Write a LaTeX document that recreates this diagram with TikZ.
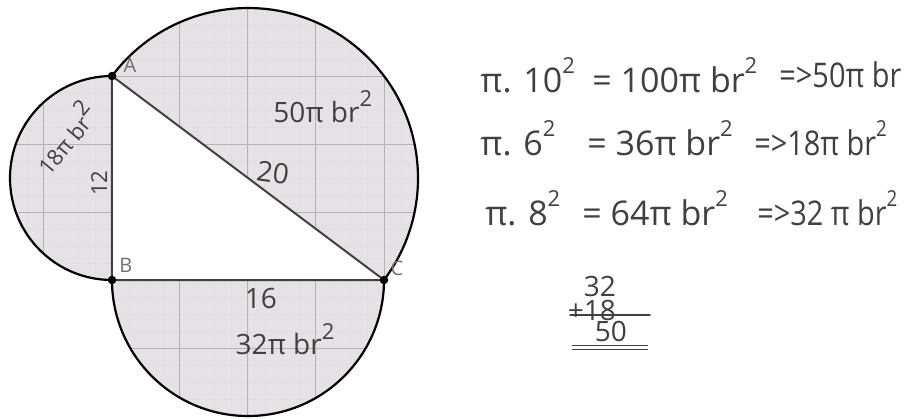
\documentclass[tikz,border=0pt]{standalone}
\usepackage{fontspec}
\setmainfont{Open Sans}
\usetikzlibrary{positioning}
\definecolor{ShadeGrey}{HTML}{E6E1E4}
\definecolor{GridGrey}{HTML}{B4B2B3}
\definecolor{InkGrey}{HTML}{404040}
\definecolor{LabelGrey}{HTML}{707070}
\newcommand{\pwtwo}{\raisebox{0.55em}{\fontsize{11}{12}\selectfont 2}}

\begin{document}
\begin{tikzpicture}[x=8.5pt,y=8.5pt,line cap=round,line join=round,
    hand/.style={InkGrey,font=\fontsize{14}{16}\selectfont,inner sep=0pt},
    smallhand/.style={InkGrey,font=\fontsize{11}{13}\selectfont,inner sep=0pt},
    bighand/.style={InkGrey,font=\fontsize{17}{20}\selectfont,inner sep=0pt,anchor=west},
    tailhand/.style={bighand,xscale=0.85},
    vertex/.style={LabelGrey,font=\fontsize{10}{12}\selectfont,inner sep=1pt}]
  \useasboundingbox (-6.588,-8.118) rectangle (46.588,16.471);
  \coordinate (A) at (0,12);
  \coordinate (B) at (0,0);
  \coordinate (C) at (16,0);
  % shaded half discs on squared paper
  \begin{scope}
    \clip (A) arc[start angle=90,end angle=270,radius=6] -- cycle
          (B) arc[start angle=180,end angle=360,radius=8] -- cycle
          (C) arc[start angle=-36.87,end angle=143.13,radius=10] -- cycle;
    \fill[ShadeGrey] (-7,-9) rectangle (19,17);
    \draw[GridGrey!40,line width=0.3pt] (-8,-12) grid[step=1] (20,20);
    \draw[GridGrey,line width=0.5pt] (-8,-12) grid[step=4] (20,20);
  \end{scope}
  \draw[line width=1.1pt] (A) arc[start angle=90,end angle=270,radius=6];
  \draw[line width=1.1pt] (B) arc[start angle=180,end angle=360,radius=8];
  \draw[line width=1.1pt] (C) arc[start angle=-36.87,end angle=143.13,radius=10];
  \draw[InkGrey,line width=1pt] (A)--(B)--(C)--cycle;
  \fill (A) circle (0.25);
  \fill (B) circle (0.25);
  \fill (C) circle (0.25);
  \node[vertex] (labA) at (1.06,12.65) {A};
  \node[vertex] (labB) at (0.82,0.88) {B};
  \node[vertex] (labC) at (16.76,0.7) {C};
  % handwritten labels in the figure
  \node[hand] (areaAC) at (12.4,10.2) {50π br\pwtwo};
  \node[hand,rotate=-8] (sideAC) at (9.47,6.3) {20};
  \node[smallhand,rotate=50] (areaAB) at (-2.8,8.4) {18π br\pwtwo};
  \node[smallhand,rotate=90] (sideAB) at (-0.75,5.7) {12};
  \node[hand] (sideBC) at (8.76,-1.06) {16};
  \node[hand] (areaBC) at (10.18,-3.47) {32π br\pwtwo};
  % working on the right
  \node[bighand] (eqA1) at (21.65,12.06) {π. 10\pwtwo};
  \node[bighand] (eqA2) at (28.24,12.06) {= 100π br\pwtwo};
  \node[tailhand] (eqA3) at (39.24,12.06) {=>50π br};
  \node[bighand] (eqB1) at (21.65,8.35) {π. 6\pwtwo};
  \node[bighand] (eqB2) at (27.94,8.35) {= 36π br\pwtwo};
  \node[tailhand] (eqB3) at (37.76,8.35) {=>18π br\pwtwo};
  \node[bighand] (eqC1) at (21.94,4.24) {π. 8\pwtwo};
  \node[bighand] (eqC2) at (27.65,4.24) {= 64π br\pwtwo};
  \node[tailhand] (eqC3) at (37.94,4.24) {=>32 π br\pwtwo};
  % the sum
  \node[hand] (sum32) at (28.7,-0.41) {32};
  \node[hand,below=1pt of sum32.south east,anchor=north east] (sum18) {+18};
  \node[hand] (sum50) at (29.35,-3.0) {50};
  \coordinate (ruleL) at (26.94,-2.06);
  \coordinate (ruleR) at (31.65,-2.06);
  \coordinate (dblL) at (27.1,-3.85);
  \coordinate (dblR) at (31.5,-3.85);
  \draw[InkGrey,line width=0.6pt] (ruleL) -- (ruleR);
  \draw[InkGrey,line width=0.6pt] (dblL) -- (dblR);
  \draw[InkGrey,line width=0.6pt] ([yshift=-2pt]dblL) -- ([yshift=-2pt]dblR);
\end{tikzpicture}
\end{document}
